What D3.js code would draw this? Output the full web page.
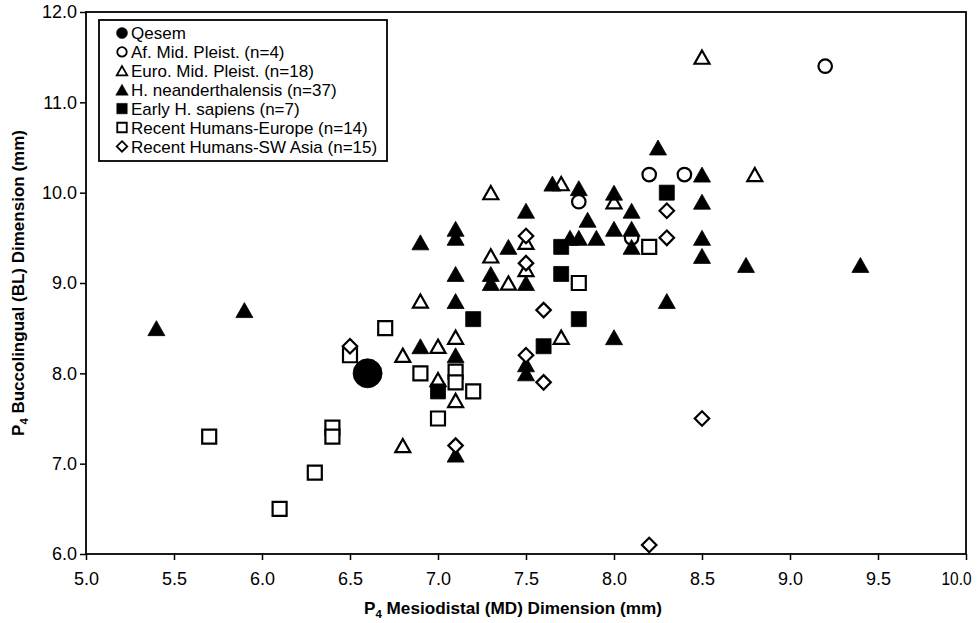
<!DOCTYPE html>
<html>
<head>
<meta charset="utf-8">
<script src="https://cdn.jsdelivr.net/npm/d3@7"></script>
<style>
  html, body { margin: 0; padding: 0; background: #fff; }
  svg { display: block; font-family: "Liberation Sans", Arial, sans-serif; }
</style>
</head>
<body>
<div id="chart"></div>
<script>
// P4 MD vs BL scatter

// [MD, BL] pairs per group
const qesem = [[6.6, 8.0]];
const afMidPleist = [[9.2, 11.4], [8.2, 10.2], [8.4, 10.2], [7.8, 9.9], [8.1, 9.5]];
const euroMidPleist = [
  [8.5, 11.5], [8.8, 10.2], [7.3, 10.0], [7.7, 10.1], [8.0, 9.9], [7.5, 9.45],
  [7.3, 9.3], [7.5, 9.15], [7.4, 9.0], [6.9, 8.8], [7.7, 8.4], [7.1, 8.4],
  [7.0, 8.3], [6.8, 8.2], [7.0, 7.93], [7.1, 7.7], [6.8, 7.2]
];
const neanderthalensis = [
  [5.4, 8.5], [5.9, 8.7], [6.9, 9.45], [7.1, 9.6], [7.1, 9.5], [7.1, 9.1],
  [7.1, 8.8], [7.3, 9.1], [7.3, 9.0], [7.4, 9.4], [7.5, 9.0], [7.5, 9.8],
  [7.65, 10.1], [7.8, 10.05], [8.0, 10.0], [8.1, 9.8], [7.85, 9.7], [7.75, 9.5],
  [7.8, 9.5], [7.9, 9.5], [8.0, 9.6], [8.1, 9.6], [8.1, 9.4], [8.25, 10.5],
  [8.5, 10.2], [8.5, 9.9], [8.5, 9.5], [8.5, 9.3], [8.3, 8.8], [8.75, 9.2],
  [9.4, 9.2], [8.0, 8.4], [6.9, 8.3], [7.1, 8.2], [7.5, 8.1], [7.5, 8.0],
  [7.1, 7.1]
];
const earlySapiens = [[8.3, 10.0], [7.7, 9.4], [7.7, 9.1], [7.2, 8.6], [7.8, 8.6], [7.6, 8.3], [7.0, 7.8]];
const recentEurope = [
  [5.7, 7.3], [6.1, 6.5], [6.3, 6.9], [6.4, 7.4], [6.4, 7.3], [6.5, 8.2],
  [6.7, 8.5], [6.9, 8.0], [7.1, 8.02], [7.1, 7.9], [7.2, 7.8], [7.0, 7.5],
  [7.8, 9.0], [8.2, 9.4]
];
const recentSWAsia = [
  [7.5, 9.52], [7.5, 9.22], [7.6, 8.7], [8.3, 9.8], [8.3, 9.5], [6.5, 8.3],
  [7.5, 8.2], [7.6, 7.9], [7.1, 7.2], [8.5, 7.5], [8.2, 6.1]
];

const groupNames = [
  "Qesem", "Af. Mid. Pleist. (n=4)", "Euro. Mid. Pleist. (n=18)",
  "H. neanderthalensis (n=37)", "Early H. sapiens (n=7)",
  "Recent Humans-Europe (n=14)", "Recent Humans-SW Asia (n=15)"
];
const xTicks = [5.0, 5.5, 6.0, 6.5, 7.0, 7.5, 8.0, 8.5, 9.0, 9.5, 10.0];
const yTicks = [6.0, 7.0, 8.0, 9.0, 10.0, 11.0, 12.0];

const W = 977, H = 623;
const margin = { top: 12, right: 11, bottom: 69, left: 86 };

// marker shapes, centred on their bounding box; size = width in px
const shapes = {
  circle: { draw(c, s) { const r = s / 2; c.moveTo(r, 0); c.arc(0, 0, r, 0, 2 * Math.PI); } },
  triangle: { draw(c, s) { const h = s * 0.88; c.moveTo(0, -h / 2); c.lineTo(s / 2, h / 2); c.lineTo(-s / 2, h / 2); c.closePath(); } },
  square: { draw(c, s) { c.rect(-s / 2, -s / 2, s, s); } },
  diamond: { draw(c, s) { const r = s / 2; c.moveTo(0, -r); c.lineTo(r, 0); c.lineTo(0, r); c.lineTo(-r, 0); c.closePath(); } }
};

const series = [
  { data: qesem, shape: "circle", filled: true, size: 29, legendSize: 11 },
  { data: afMidPleist, shape: "circle", filled: false, size: 13.5, legendSize: 9.5 },
  { data: euroMidPleist, shape: "triangle", filled: false, size: 15, legendSize: 10.5 },
  { data: neanderthalensis, shape: "triangle", filled: true, size: 17, legendSize: 12.5 },
  { data: earlySapiens, shape: "square", filled: true, size: 15, legendSize: 10.5 },
  { data: recentEurope, shape: "square", filled: false, size: 14, legendSize: 9.5 },
  { data: recentSWAsia, shape: "diamond", filled: false, size: 14.5, legendSize: 10.5 }
];

const svg = d3.select("#chart").append("svg").attr("width", W).attr("height", H);

const x = d3.scaleLinear().domain([5, 10]).range([margin.left, W - margin.right]);
const y = d3.scaleLinear().domain([6, 12]).range([H - margin.bottom, margin.top]);

const sym = (shape, s) => d3.symbol().type(shapes[shape]).size(s)();

// x axis
const xAxis = svg.append("g")
  .attr("transform", `translate(0,${y(6)})`)
  .call(d3.axisBottom(x).tickValues(xTicks).tickFormat(d3.format(".1f")).tickSize(6).tickSizeOuter(0));
xAxis.select(".domain").remove();
xAxis.selectAll(".tick line").attr("stroke", "#000").attr("stroke-width", 1.5);
xAxis.selectAll(".tick text")
  .attr("dy", "1.2em")
  .style("font-size", "18px")
  .attr("fill", "#000")
  .attr("textLength", d => d >= 10 ? 30 : 25)
  .attr("lengthAdjust", "spacingAndGlyphs")
  .attr("text-anchor", d => d >= 10 ? "end" : "middle")
  .attr("x", d => d >= 10 ? 5 : 0);

// y axis
const yAxis = svg.append("g")
  .attr("transform", `translate(${x(5)},0)`)
  .call(d3.axisLeft(y).tickValues(yTicks).tickFormat(d3.format(".1f")).tickSize(6).tickSizeOuter(0));
yAxis.select(".domain").remove();
yAxis.selectAll(".tick line").attr("stroke", "#000").attr("stroke-width", 1.5);
yAxis.selectAll(".tick text").style("font-size", "18px").attr("fill", "#000").attr("x", -9);

// plot frame
svg.append("rect")
  .attr("x", x(5)).attr("y", y(12))
  .attr("width", x(10) - x(5)).attr("height", y(6) - y(12))
  .attr("fill", "none").attr("stroke", "#000").attr("stroke-width", 1.8);

// points
series.forEach(s => {
  svg.append("g").selectAll("path")
    .data(s.data)
    .join("path")
    .attr("transform", d => `translate(${x(d[0])},${y(d[1])})`)
    .attr("d", sym(s.shape, s.size))
    .attr("fill", s.filled ? "#000" : "#fff")
    .attr("stroke", "#000")
    .attr("stroke-width", s.filled ? 0.8 : 2.2);
});

// legend
const legend = svg.append("g");
legend.append("rect")
  .attr("x", 99).attr("y", 20).attr("width", 288).attr("height", 141)
  .attr("fill", "#fff").attr("stroke", "#000").attr("stroke-width", 1.8);
const rowY = i => 33 + i * 18.9;
series.forEach((s, i) => {
  legend.append("path")
    .attr("transform", `translate(122,${rowY(i)})`)
    .attr("d", sym(s.shape, s.legendSize))
    .attr("fill", s.filled ? "#000" : "#fff")
    .attr("stroke", "#000")
    .attr("stroke-width", s.filled ? 0.5 : 1.8);
  legend.append("text")
    .attr("x", 131).attr("y", rowY(i))
    .attr("dy", "0.36em")
    .style("font-size", "17px")
    .text(groupNames[i]);
});

// axis titles
const xTitle = svg.append("text")
  .attr("x", (x(5) + x(10)) / 2 - 13).attr("y", 614)
  .attr("text-anchor", "middle")
  .style("font-size", "16.5px").style("font-weight", "bold")
  .attr("textLength", 298).attr("lengthAdjust", "spacingAndGlyphs");
xTitle.append("tspan").text("P");
xTitle.append("tspan").attr("dy", 4).style("font-size", "11px").text("4");
xTitle.append("tspan").attr("dy", -4).text(" Mesiodistal (MD) Dimension (mm)");

const yTitle = svg.append("text")
  .attr("transform", `translate(24,${(y(6) + y(12)) / 2}) rotate(-90)`)
  .attr("text-anchor", "middle")
  .style("font-size", "16.5px").style("font-weight", "bold")
  .attr("textLength", 306).attr("lengthAdjust", "spacingAndGlyphs");
yTitle.append("tspan").text("P");
yTitle.append("tspan").attr("dy", 4).style("font-size", "11px").text("4");
yTitle.append("tspan").attr("dy", -4).text(" Buccolingual (BL) Dimension (mm)");
</script>
</body>
</html>
